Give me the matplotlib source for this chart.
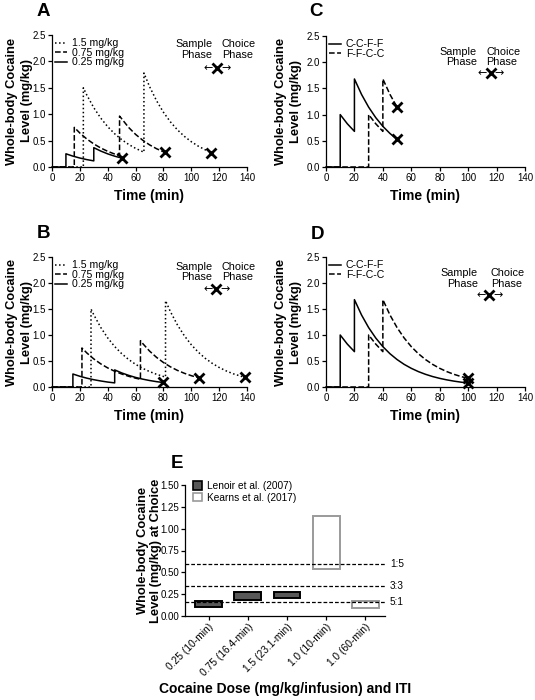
import matplotlib
matplotlib.use('Agg')
import matplotlib.pyplot as plt
import matplotlib.transforms as mtrans
from matplotlib.patches import Patch
from matplotlib.lines import Line2D

plt.rcParams['font.family'] = ['Liberation Sans', 'DejaVu Sans']

# Panel A - Lenoir doses (time in min, level in mg/kg)
a_t_15 = [0, 22.5, 22.5, 25, 30, 35, 40, 45, 50, 55, 60, 66, 66, 70, 75, 80, 85, 90, 95, 100, 105, 110, 114.5]
a_y_15 = [0, 0, 1.5, 1.362, 1.123, 0.926, 0.763, 0.629, 0.519, 0.428, 0.353, 0.280, 1.78, 1.525, 1.258, 1.037,
          0.855, 0.705, 0.581, 0.479, 0.395, 0.326, 0.274]
a_t_075 = [0, 16, 16, 20, 25, 30, 35, 40, 45, 48.5, 48.5, 55, 60, 65, 70, 75, 81]
a_y_075 = [0, 0, 0.75, 0.643, 0.530, 0.437, 0.360, 0.297, 0.245, 0.214, 0.964, 0.750, 0.618, 0.510, 0.420, 0.347, 0.275]
a_t_025 = [0, 10, 10, 15, 20, 25, 30, 30, 35, 40, 45, 50]
a_y_025 = [0, 0, 0.25, 0.206, 0.170, 0.140, 0.116, 0.366, 0.302, 0.249, 0.205, 0.169]

# Panel B
b_t_15 = [0, 28, 28, 30, 35, 40, 45, 50, 55, 60, 65, 70, 75, 81.5, 81.5, 85, 90, 95, 100, 105, 110, 115, 120,
          125, 130, 138.5]
b_y_15 = [0, 0, 1.5, 1.389, 1.145, 0.944, 0.778, 0.642, 0.529, 0.436, 0.360, 0.297, 0.245, 0.190, 1.66, 1.450,
          1.196, 0.986, 0.813, 0.670, 0.552, 0.456, 0.376, 0.310, 0.255, 0.184]
b_t_075 = [0, 21.5, 21.5, 25, 30, 35, 40, 45, 50, 55, 60, 63.5, 63.5, 65, 70, 75, 80, 85, 90, 95, 100, 105.5]
b_y_075 = [0, 0, 0.75, 0.655, 0.540, 0.445, 0.367, 0.303, 0.250, 0.206, 0.170, 0.148, 0.89, 0.840, 0.692, 0.571,
           0.471, 0.388, 0.320, 0.264, 0.218, 0.176]
b_t_025 = [0, 15, 15, 20, 25, 30, 35, 40, 45, 45, 50, 55, 60, 65, 70, 75, 79.5]
b_y_025 = [0, 0, 0.25, 0.206, 0.170, 0.140, 0.116, 0.095, 0.079, 0.329, 0.271, 0.224, 0.184, 0.152, 0.125, 0.103, 0.087]

# Panel C - Kearns sequences, short
c_t_ccff = [0, 10, 10, 15, 20, 20, 25, 30, 35, 40, 45, 50]
c_y_ccff = [0, 0, 1.0, 0.825, 0.680, 1.68, 1.385, 1.142, 0.942, 0.776, 0.640, 0.528]
c_t_ffcc = [0, 30, 30, 35, 40, 40, 45, 50]
c_y_ffcc = [0, 0, 1.0, 0.825, 0.680, 1.68, 1.385, 1.142]

# Panel D - Kearns sequences, long
d_t_ccff = [0, 10, 10, 15, 20, 20, 25, 30, 35, 40, 45, 50, 55, 60, 65, 70, 75, 80, 85, 90, 95, 100]
d_y_ccff = [0, 0, 1.0, 0.825, 0.680, 1.68, 1.385, 1.142, 0.942, 0.776, 0.640, 0.528, 0.435, 0.359, 0.296,
            0.244, 0.201, 0.166, 0.137, 0.113, 0.093, 0.077]
d_t_ffcc = [0, 30, 30, 35, 40, 40, 45, 50, 55, 60, 65, 70, 75, 80, 85, 90, 95, 100]
d_y_ffcc = [0, 0, 1.0, 0.825, 0.680, 1.68, 1.385, 1.142, 0.942, 0.776, 0.640, 0.528, 0.435, 0.359, 0.296,
            0.244, 0.201, 0.166]

# Panel E - floating bars
e_labels = ['0.25 (10-min)', '0.75 (16.4-min)', '1.5 (23.1-min)', '1.0 (10-min)', '1.0 (60-min)']
e_low = [0.10, 0.18, 0.21, 0.54, 0.09]
e_high = [0.17, 0.27, 0.27, 1.145, 0.17]
e_study = ['Lenoir', 'Lenoir', 'Lenoir', 'Kearns', 'Kearns']
ratio_levels = [0.59, 0.345, 0.16]
ratio_labels = ['1:5', '3:3', '5:1']

W, H = 535, 700
fig = plt.figure(figsize=(W / 100, H / 100), dpi=100)


def px_axes(l, t, r, b):
    return fig.add_axes([l / W, 1 - b / H, (r - l) / W, (b - t) / H])


def style(ax):
    for s in ['top', 'right']:
        ax.spines[s].set_visible(False)
    for s in ['left', 'bottom']:
        ax.spines[s].set_linewidth(0.9)
    ax.tick_params(direction='out', length=3, width=0.9, labelsize=7, pad=1.2)


def time_panel(ax, series, labels, ann, lab_x):
    style(ax)
    handles = []
    for (t, y, ls) in series:
        ax.plot(t, y, color='black', lw=1.1, linestyle=ls, clip_on=False)
        ax.plot(t[-1], y[-1], marker='x', color='black', ms=7, mew=2, clip_on=False)
        handles.append(Line2D([], [], color='black', lw=1.1, linestyle=ls))
    ax.set_xlim(0, 140)
    ax.set_ylim(0, 2.5)
    ax.set_xticks(range(0, 141, 20))
    ax.set_yticks([0, 0.5, 1.0, 1.5, 2.0, 2.5])
    ax.set_yticklabels(['0.0', '0.5', '1.0', '1.5', '2.0', '2.5'])
    ax.set_xlabel('Time (min)', fontsize=10, fontweight='bold')
    ax.xaxis.set_label_coords(0.5, -0.17)
    ax.set_ylabel('Whole-body Cocaine\nLevel (mg/kg)', fontsize=9.3, fontweight='bold', linespacing=1.4)
    ax.yaxis.set_label_coords(lab_x, 0.5)
    ax.legend(handles, labels, loc='upper left', bbox_to_anchor=(0.015, 0.975), frameon=False, fontsize=7.6,
              handlelength=1.1, handletextpad=0.5, labelspacing=-0.05, borderaxespad=0, borderpad=0)
    # Sample / Choice phase annotation
    s_x, c_x, x_x, y_txt, y_x = ann
    ax.text(s_x, y_txt, 'Sample\nPhase', ha='right', va='center', fontsize=7.8, multialignment='right',
            linespacing=1.1, clip_on=False)
    ax.text(c_x, y_txt, 'Choice\nPhase', ha='left', va='center', fontsize=7.8, multialignment='left',
            linespacing=1.1, clip_on=False)
    ax.plot(x_x, y_x, marker='x', color='black', ms=7, mew=2, clip_on=False)
    ax.text(x_x - 2.8, y_x, '\u2190', ha='right', va='center', fontsize=8, family='DejaVu Sans')
    ax.text(x_x + 2.8, y_x, '\u2192', ha='left', va='center', fontsize=8, family='DejaVu Sans')


axA = px_axes(52, 35, 247, 167)
time_panel(axA, [(a_t_15, a_y_15, ':'), (a_t_075, a_y_075, '--'), (a_t_025, a_y_025, '-')],
           ['1.5 mg/kg', '0.75 mg/kg', '0.25 mg/kg'], (115, 122, 118.5, 2.22, 1.875), -0.095)
axB = px_axes(52, 257, 247, 387)
time_panel(axB, [(b_t_15, b_y_15, ':'), (b_t_075, b_y_075, '--'), (b_t_025, b_y_025, '-')],
           ['1.5 mg/kg', '0.75 mg/kg', '0.25 mg/kg'], (115, 122, 118, 2.21, 1.88), -0.095)
axC = px_axes(326, 36, 525, 167)
time_panel(axC, [(c_t_ccff, c_y_ccff, '-'), (c_t_ffcc, c_y_ffcc, '--')],
           ['C-C-F-F', 'F-F-C-C'], (106, 113, 116, 2.1, 1.79), -0.12)
axD = px_axes(326, 257, 525, 387)
time_panel(axD, [(d_t_ccff, d_y_ccff, '-'), (d_t_ffcc, d_y_ffcc, '--')],
           ['C-C-F-F', 'F-F-C-C'], (107, 116, 115, 2.09, 1.77), -0.12)

# Panel E
axE = px_axes(185, 485, 385, 616)
style(axE)
xs = list(range(len(e_labels)))
for i in xs:
    if e_study[i] == 'Lenoir':
        fc, ec = '#585858', 'black'
    else:
        fc, ec = 'white', '#9a9a9a'
    axE.bar(i, e_high[i] - e_low[i], bottom=e_low[i], width=0.68, color=fc, edgecolor=ec, linewidth=1.4,
            zorder=2)
blend = mtrans.blended_transform_factory(axE.transAxes, axE.transData)
for lvl, lab in zip(ratio_levels, ratio_labels):
    axE.plot([0, 1], [lvl, lvl], transform=blend, color='black', lw=0.9, linestyle=(0, (3, 1.6)), zorder=3,
             clip_on=False)
    axE.text(1.025, lvl, lab, transform=blend, fontsize=7.2, va='center', ha='left')
axE.set_xlim(-0.6, 4.5)
axE.set_ylim(0, 1.5)
axE.set_yticks([0, 0.25, 0.5, 0.75, 1.0, 1.25, 1.5])
axE.set_yticklabels(['0.00', '0.25', '0.50', '0.75', '1.00', '1.25', '1.50'])
axE.set_xticks(xs)
axE.set_xticklabels(e_labels, rotation=45, ha='right', rotation_mode='anchor', fontsize=7.4)
axE.set_ylabel('Whole-body Cocaine\nLevel (mg/kg) at Choice', fontsize=9.3, fontweight='bold', linespacing=1.15)
axE.yaxis.set_label_coords(-0.115, 0.5)
axE.set_xlabel('Cocaine Dose (mg/kg/infusion) and ITI', fontsize=10, fontweight='bold')
axE.xaxis.set_label_coords(0.5, -0.50)
leg_h = [Patch(facecolor='#585858', edgecolor='black', linewidth=1.2),
         Patch(facecolor='white', edgecolor='#9a9a9a', linewidth=1.2)]
axE.legend(leg_h, ['Lenoir et al. (2007)', 'Kearns et al. (2017)'], loc='upper left', bbox_to_anchor=(0.04, 1.03),
           frameon=False, fontsize=7.3, handlelength=0.9, handleheight=0.9, handletextpad=0.5,
           labelspacing=0.15, borderaxespad=0, borderpad=0)

# panel letters
for lab, x, y in [('A', 43, 12), ('C', 316, 12), ('B', 43, 233), ('D', 317, 235), ('E', 177, 463)]:
    fig.text(x / W, 1 - y / H, lab, fontsize=13.5, fontweight='bold', ha='center', va='center')

fig.savefig('out.png', dpi=100)
